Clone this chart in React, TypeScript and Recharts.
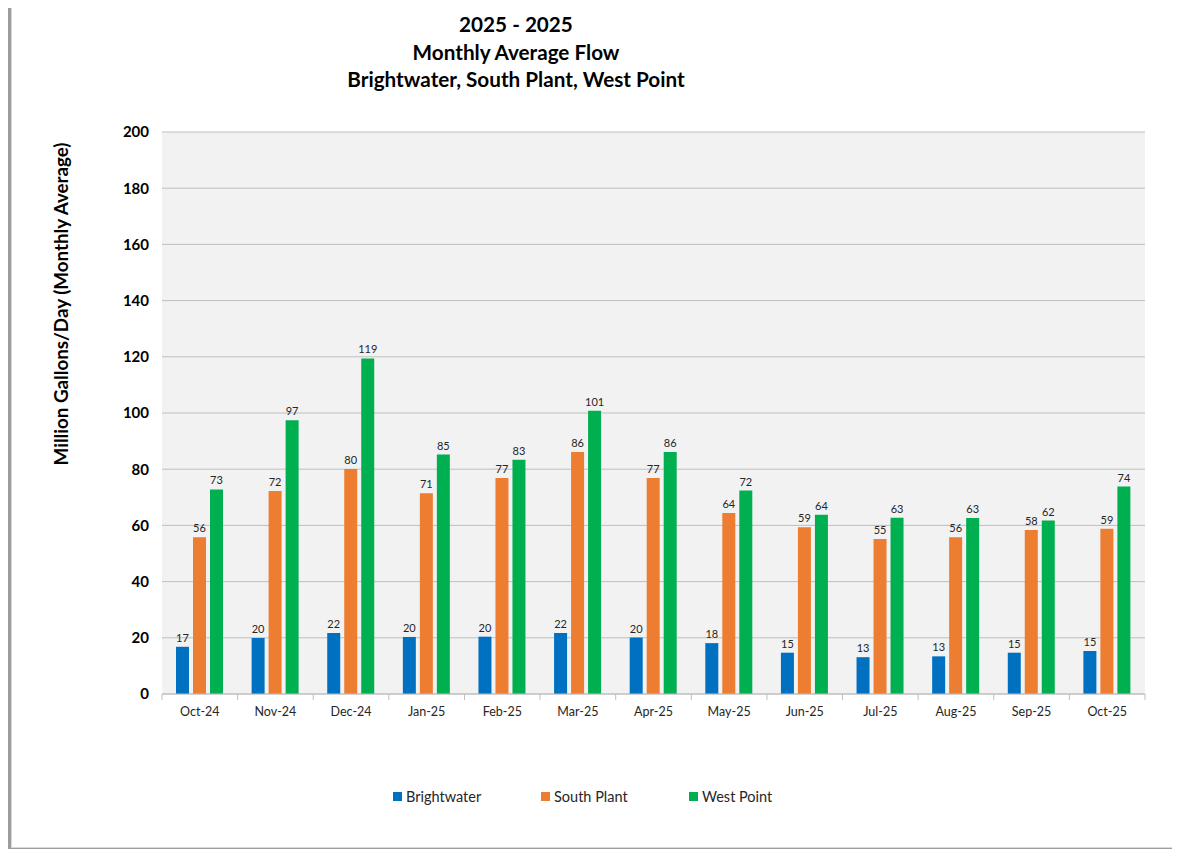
import { BarChart, Bar, XAxis, YAxis, CartesianGrid, LabelList, Legend } from 'recharts';

const months = ['Oct-24', 'Nov-24', 'Dec-24', 'Jan-25', 'Feb-25', 'Mar-25', 'Apr-25', 'May-25', 'Jun-25', 'Jul-25', 'Aug-25', 'Sep-25', 'Oct-25'];
const brightwater = [16.8, 19.9, 21.7, 20.3, 20.4, 21.7, 20.1, 18.1, 14.7, 13.1, 13.4, 14.7, 15.3];
const southPlant = [55.8, 72.2, 80.1, 71.4, 76.9, 86.1, 76.9, 64.4, 59.3, 55.2, 55.8, 58.4, 58.8];
const westPoint = [72.8, 97.4, 119.4, 85.2, 83.4, 100.8, 86.1, 72.4, 63.8, 62.7, 62.6, 61.7, 73.8];
const yTicks = [0, 20, 40, 60, 80, 100, 120, 140, 160, 180, 200];

const COLORS = {
  Brightwater: '#0070c0',
  'South Plant': '#ed7d31',
  'West Point': '#00b050',
};

const FONT = 'Lato, "Open Sans", sans-serif';
const PLOT_LEFT = 162;
const PLOT_RIGHT = 1145;
const PLOT_TOP = 132;
const PLOT_BOTTOM = 694;
const CHART_W = 1180;
const CHART_H = 857;
const BAND = (PLOT_RIGHT - PLOT_LEFT) / months.length;

const data = months.map((m, i) => ({
  month: m,
  Brightwater: brightwater[i],
  'South Plant': southPlant[i],
  'West Point': westPoint[i],
}));

function MonthTick(props: any) {
  const { x, y, payload, index } = props;
  const last = index === months.length - 1;
  return (
    <g>
      <line x1={x - BAND / 2} x2={x - BAND / 2} y1={y} y2={y + 6} stroke="#bfbfbf" />
      {last && <line x1={x + BAND / 2} x2={x + BAND / 2} y1={y} y2={y + 6} stroke="#bfbfbf" />}
      <text x={x} y={y + 22} textAnchor="middle" fontSize={12.5} fill="#262626" fontFamily={FONT}>
        {payload.value}
      </text>
    </g>
  );
}

function LegendContent() {
  return (
    <div style={{ display: 'flex', fontFamily: FONT, fontSize: 14.5, color: '#262626' }}>
      {Object.entries(COLORS).map(([name, color]) => (
        <div key={name} style={{ width: 148, display: 'flex', alignItems: 'center' }}>
          <span style={{ width: 9, height: 9, background: color, marginRight: 4, display: 'inline-block' }} />
          {name}
        </div>
      ))}
    </div>
  );
}

const roundLabel = (v: any) => Math.round(Number(v));

export default function App() {
  return (
    <div style={{ position: 'relative', width: CHART_W, height: CHART_H, margin: -8, background: '#fff', overflow: 'hidden' }}>
      <div
        style={{
          position: 'absolute',
          left: 11,
          top: 0,
          width: 1167,
          height: 846,
          background: '#fff',
          border: '1px solid #d9d9d9',
          boxShadow: '-6px 6px 2px #9c9c9c',
        }}
      />
      <div
        style={{
          position: 'absolute',
          left: 216,
          top: 11,
          width: 600,
          textAlign: 'center',
          fontFamily: FONT,
          fontWeight: 700,
          fontSize: 20.7,
          lineHeight: '27.5px',
          color: '#000',
        }}
      >
        <div>2025 - 2025</div>
        <div>Monthly Average Flow</div>
        <div>Brightwater, South Plant, West Point</div>
      </div>
      <div
        style={{
          position: 'absolute',
          left: 60,
          top: 304,
          transform: 'translate(-50%, -50%) rotate(-90deg)',
          whiteSpace: 'nowrap',
          fontFamily: FONT,
          fontWeight: 700,
          fontSize: 18.8,
          color: '#000',
        }}
      >
        Million Gallons/Day (Monthly Average)
      </div>
      <div style={{ position: 'absolute', left: 0, top: 0 }}>
        <BarChart
          width={CHART_W}
          height={CHART_H}
          data={data}
          barSize={13}
          barGap={4}
          margin={{ top: PLOT_TOP, right: CHART_W - PLOT_RIGHT, bottom: CHART_H - PLOT_BOTTOM - 30, left: 0 }}
        >
          <CartesianGrid vertical={false} stroke="#bfbfbf" fill="#f2f2f2" />
          <XAxis
            dataKey="month"
            height={30}
            tickLine={false}
            tickSize={0}
            tickMargin={0}
            axisLine={{ stroke: '#bfbfbf' }}
            tick={<MonthTick />}
            interval={0}
          />
          <YAxis
            width={PLOT_LEFT}
            domain={[0, 200]}
            ticks={yTicks}
            axisLine={false}
            tickLine={false}
            tickMargin={7}
            tick={{ fontSize: 15, fontWeight: 700, fill: '#000', fontFamily: FONT }}
          />
          <Legend
            verticalAlign="middle"
            align="center"
            content={<LegendContent />}
            wrapperStyle={{ left: 393, top: 788, width: 460 }}
          />
          {Object.entries(COLORS).map(([name, color]) => (
            <Bar key={name} dataKey={name} fill={color} isAnimationActive={false}>
              <LabelList
                dataKey={name}
                position="top"
                offset={5}
                formatter={roundLabel}
                style={{ fontSize: 11, fill: '#262626', fontFamily: FONT }}
              />
            </Bar>
          ))}
        </BarChart>
      </div>
    </div>
  );
}
